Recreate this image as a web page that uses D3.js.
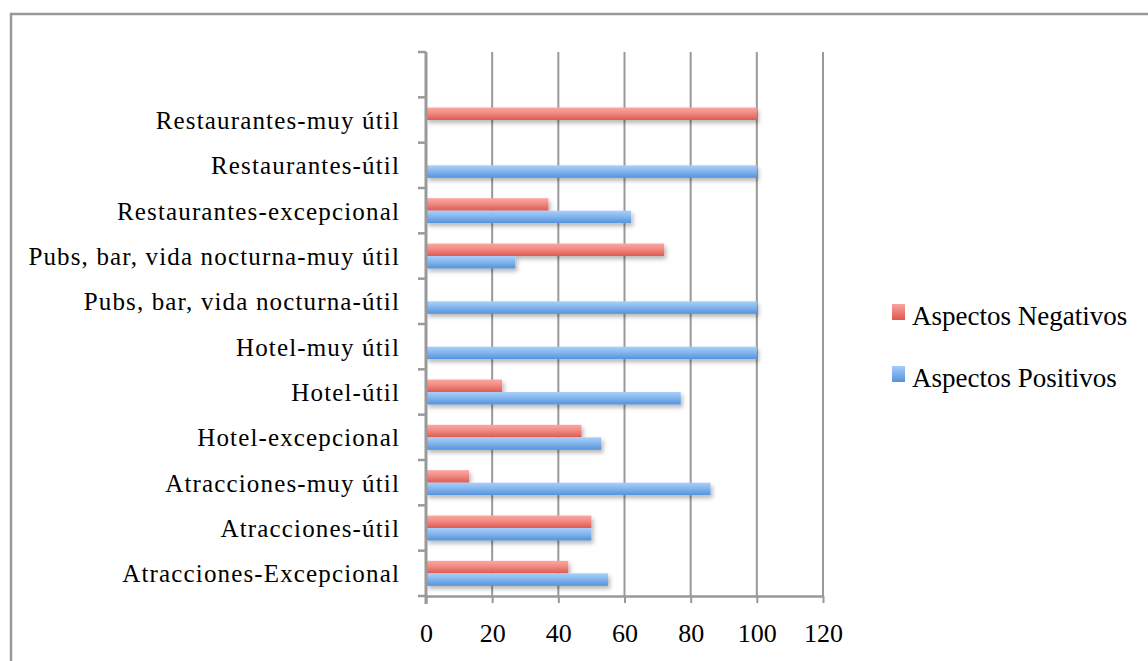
<!DOCTYPE html>
<html>
<head>
<meta charset="utf-8">
<script src="https://cdn.jsdelivr.net/npm/d3@7"></script>
<style>
  html, body { margin: 0; padding: 0; background: #fff; }
  svg { display: block; }
  .lbl { font-family: "Liberation Serif", "DejaVu Serif", serif; fill: #000; }
</style>
</head>
<body>
<svg id="chart" width="1148" height="661"></svg>
<script>
// Categories, listed from the bottom row to the top row
const categories = [
  "Atracciones-Excepcional",
  "Atracciones-útil",
  "Atracciones-muy útil",
  "Hotel-excepcional",
  "Hotel-útil",
  "Hotel-muy útil",
  "Pubs, bar, vida nocturna-útil",
  "Pubs, bar, vida nocturna-muy útil",
  "Restaurantes-excepcional",
  "Restaurantes-útil",
  "Restaurantes-muy útil"
];
const negativos = [43, 50, 13, 47, 23, 0, 0, 72, 37, 0, 100];
const positivos = [55, 50, 86, 53, 77, 100, 100, 27, 62, 100, 0];
const seriesNames = ["Aspectos Negativos", "Aspectos Positivos"];
const xTicks = [0, 20, 40, 60, 80, 100, 120];

const svg = d3.select("#chart");
const W = 1148, H = 661;

// outer chart frame
svg.append("rect")
  .attr("x", 11).attr("y", 14)
  .attr("width", W + 20).attr("height", H + 20)
  .attr("fill", "#fff").attr("stroke", "#999").attr("stroke-width", 2.5);

const plot = { left: 426, right: 823, top: 52, bottom: 596 };

const x = d3.scaleLinear().domain([0, 120]).range([plot.left, plot.right]);

// one spare row is kept above the top category
const rows = categories.concat([" "]);
const y = d3.scaleBand().domain(rows).range([plot.bottom, plot.top]).paddingInner(0).paddingOuter(0);

const series = [
  { key: seriesNames[0], values: negativos, grad: "gradNeg" },
  { key: seriesNames[1], values: positivos, grad: "gradPos" }
];
const groupFrac = 25 / 45.33;
const inner = d3.scaleBand().domain(seriesNames)
  .range([(1 - groupFrac) / 2 * y.bandwidth(), (1 + groupFrac) / 2 * y.bandwidth()]);

// gradients and shadow
const defs = svg.append("defs");
function vGrad(id, stops) {
  const g = defs.append("linearGradient").attr("id", id)
    .attr("x1", 0).attr("y1", 0).attr("x2", 0).attr("y2", 1);
  stops.forEach(([o, c]) => g.append("stop").attr("offset", o).attr("stop-color", c));
}
vGrad("gradNeg", [[0, "#fba7a2"], [0.45, "#f08a83"], [1, "#de5a50"]]);
vGrad("gradPos", [[0, "#a9cff9"], [0.45, "#86b6ee"], [1, "#5393db"]]);
vGrad("swNeg", [[0, "#f7a4a0"], [1, "#e0564d"]]);
vGrad("swPos", [[0, "#a7cdf8"], [1, "#5494dc"]]);
const f = defs.append("filter").attr("id", "shadow")
  .attr("x", "-5%").attr("y", "-50%").attr("width", "115%").attr("height", "250%");
f.append("feDropShadow").attr("dx", 2).attr("dy", 3).attr("stdDeviation", 2)
  .attr("flood-color", "#000").attr("flood-opacity", 0.28);

// vertical gridlines
svg.append("g").selectAll("line").data(xTicks.slice(1)).join("line")
  .attr("x1", d => x(d)).attr("x2", d => x(d))
  .attr("y1", plot.top).attr("y2", plot.bottom)
  .attr("stroke", "#999").attr("stroke-width", 2);

// bars
const bars = svg.append("g").attr("filter", "url(#shadow)");
series.forEach(s => {
  bars.append("g").selectAll("rect")
    .data(categories.map((c, i) => ({ c, v: s.values[i] })).filter(d => d.v > 0))
    .join("rect")
    .attr("x", x(0))
    .attr("y", d => y(d.c) + inner(s.key))
    .attr("width", d => x(d.v) - x(0))
    .attr("height", inner.bandwidth())
    .attr("fill", `url(#${s.grad})`);
});

// y axis
const yAxis = svg.append("g").attr("transform", `translate(${plot.left},0)`)
  .call(d3.axisLeft(y).tickSize(0).tickPadding(26).tickFormat(d => d));
yAxis.select(".domain").remove();
yAxis.selectAll("text").attr("class", "lbl")
  .style("font-size", "25px").style("letter-spacing", "1.15px").attr("dy", "0.36em");
// ticks on the category boundaries
const bounds = rows.map(r => y(r)).concat([plot.bottom]);
svg.append("g").selectAll("line").data(bounds).join("line")
  .attr("x1", plot.left - 8).attr("x2", plot.left)
  .attr("y1", d => d).attr("y2", d => d)
  .attr("stroke", "#999").attr("stroke-width", 2.5);
svg.append("line")
  .attr("x1", plot.left).attr("x2", plot.left)
  .attr("y1", plot.top).attr("y2", plot.bottom + 8)
  .attr("stroke", "#999").attr("stroke-width", 3);

// x axis
const xAxis = svg.append("g").attr("transform", `translate(0,${plot.bottom})`)
  .call(d3.axisBottom(x).tickValues(xTicks).tickSize(7).tickPadding(21).tickSizeOuter(0));
xAxis.select(".domain").attr("stroke", "#999").attr("stroke-width", 2.5);
xAxis.selectAll(".tick line").attr("stroke", "#999").attr("stroke-width", 2);
xAxis.selectAll("text").attr("class", "lbl").style("font-size", "26px");

// legend
const legend = svg.append("g");
const legendSw = ["swNeg", "swPos"];
seriesNames.forEach((name, i) => {
  const gy = 312 + i * 62;
  legend.append("rect").attr("x", 892).attr("y", gy - 8).attr("width", 13).attr("height", 16)
    .attr("fill", `url(#${legendSw[i]})`);
  legend.append("text").attr("class", "lbl").attr("x", 912).attr("y", gy + 13)
    .style("font-size", "27px").text(name);
});
</script>
</body>
</html>
